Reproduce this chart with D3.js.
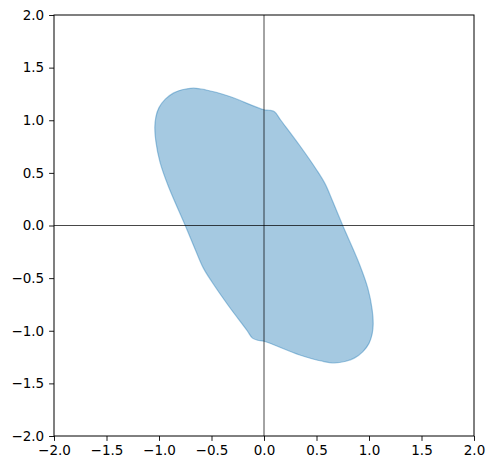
<!DOCTYPE html>
<html><head><meta charset="utf-8">
<script src="https://cdn.jsdelivr.net/npm/d3@7"></script>
<style>body{margin:0;background:#fff}svg{display:block}</style>
</head><body>
<script>
const xTicks = [-2.0, -1.5, -1.0, -0.5, 0.0, 0.5, 1.0, 1.5, 2.0];
const yTicks = [-2.0, -1.5, -1.0, -0.5, 0.0, 0.5, 1.0, 1.5, 2.0];
const shapeX = [0.10, 0.16, 0.34, 0.50, 0.58, 0.65, 0.75, 0.91, 0.99, 1.03, 1.04, 1.03, 1.00, 0.94, 0.86, 0.78, 0.67, 0.56, 0.34, 0.0, -0.06, -0.11,
                -0.16, -0.34, -0.50, -0.58, -0.65, -0.75, -0.91, -0.99, -1.03, -1.04, -1.03, -1.00, -0.94, -0.86, -0.78, -0.67, -0.56, -0.34, 0.0, 0.05];
const shapeY = [1.08, 1.00, 0.76, 0.53, 0.40, 0.24, 0.0, -0.37, -0.60, -0.80, -0.93, -1.03, -1.12, -1.20, -1.26, -1.29, -1.305, -1.29, -1.23, -1.10, -1.09, -1.07,
                -1.00, -0.76, -0.53, -0.40, -0.24, 0.0, 0.37, 0.60, 0.80, 0.93, 1.03, 1.12, 1.20, 1.26, 1.29, 1.305, 1.29, 1.23, 1.10, 1.095];

const W = 495, H = 470;
const L = 54, R = 474, T = 15, B = 436;
const svg = d3.select("body").append("svg").attr("width", W).attr("height", H);
const x = d3.scaleLinear().domain([-2, 2]).range([L, R]);
const y = d3.scaleLinear().domain([-2, 2]).range([B, T]);

const pts = shapeX.map((v, i) => [v, shapeY[i]]);
const line = d3.line().x(d => x(d[0])).y(d => y(d[1])).curve(d3.curveCatmullRomClosed.alpha(0.5));

svg.append("path").attr("d", line(pts))
  .attr("fill", "#1f77b4").attr("fill-opacity", 0.4)
  .attr("stroke", "#1f77b4").attr("stroke-opacity", 0.4).attr("stroke-width", 1.2);

svg.append("line").attr("x1", x(0)).attr("x2", x(0)).attr("y1", T).attr("y2", B)
  .attr("stroke", "#000").attr("stroke-opacity", 0.8).attr("stroke-width", 0.9);
svg.append("line").attr("x1", L).attr("x2", R).attr("y1", y(0)).attr("y2", y(0))
  .attr("stroke", "#000").attr("stroke-opacity", 0.8).attr("stroke-width", 0.9);

const fmt = d3.format(".1f");
const gx = svg.append("g").attr("transform", `translate(0,${B})`)
  .call(d3.axisBottom(x).tickValues(xTicks).tickFormat(fmt).tickSize(4.9).tickPadding(4.9));
const gy = svg.append("g").attr("transform", `translate(${L},0)`)
  .call(d3.axisLeft(y).tickValues(yTicks).tickFormat(fmt).tickSize(4.9).tickPadding(4.9));
[gx, gy].forEach(g => {
  g.select(".domain").remove();
  g.selectAll("line").attr("stroke", "#000").attr("stroke-width", 0.9);
  g.selectAll("text").attr("font-family", "DejaVu Sans").attr("font-size", 13.5).attr("fill", "#000");
});
svg.append("rect").attr("x", L).attr("y", T).attr("width", R - L).attr("height", B - T)
  .attr("fill", "none").attr("stroke", "#000").attr("stroke-width", 1);
</script>
</body></html>
